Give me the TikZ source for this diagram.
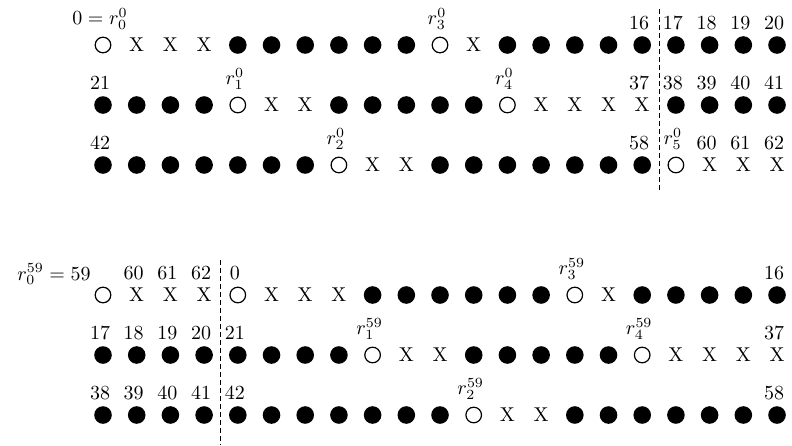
\documentclass[tikz,border=0pt]{standalone}
\begin{document}
\begin{tikzpicture}[x=0.5pt,y=-0.5pt,
  fd/.style={circle,fill=black,inner sep=0pt,minimum size=8.8pt},
  od/.style={circle,draw=black,line width=0.6pt,inner sep=0pt,minimum size=7.8pt},
  xd/.style={inner sep=0pt,execute at begin node={X}},
  lab/.style={anchor=south,inner sep=0pt},
  sepline/.style={line width=0.5pt,dash pattern=on 2.6pt off 1.4pt}]
\useasboundingbox (0,0) rectangle (792,445);
% top block
\foreach \t [count=\i from 0] in {od,xd,xd,xd,fd,fd,fd,fd,fd,fd,od,xd,fd,fd,fd,fd,fd,fd,fd,fd,fd}
  \node[\t] (a-\i) at ({103+33.7*\i},45) {};
\foreach \t [count=\i from 0] in {fd,fd,fd,fd,od,xd,xd,fd,fd,fd,fd,fd,od,xd,xd,xd,xd,fd,fd,fd,fd}
  \node[\t] (b-\i) at ({103+33.7*\i},105) {};
\foreach \t [count=\i from 0] in {fd,fd,fd,fd,fd,fd,fd,od,xd,xd,fd,fd,fd,fd,fd,fd,fd,od,xd,xd,xd}
  \node[\t] (c-\i) at ({103+33.7*\i},165) {};
% bottom block
\foreach \t [count=\i from 0] in {od,xd,xd,xd,od,xd,xd,xd,fd,fd,fd,fd,fd,fd,od,xd,fd,fd,fd,fd,fd}
  \node[\t] (d-\i) at ({103+33.7*\i},295) {};
\foreach \t [count=\i from 0] in {fd,fd,fd,fd,fd,fd,fd,fd,od,xd,xd,fd,fd,fd,fd,fd,od,xd,xd,xd,xd}
  \node[\t] (e-\i) at ({103+33.7*\i},355) {};
\foreach \t [count=\i from 0] in {fd,fd,fd,fd,fd,fd,fd,fd,fd,fd,fd,od,xd,xd,fd,fd,fd,fd,fd,fd,fd}
  \node[\t] (f-\i) at ({103+33.7*\i},415) {};
% labels
\node[anchor=south east,inner sep=0pt] (la-0) at ([shift={(12.5pt,7.5pt)}]a-0.center) {$0 = r_0^0$};
\foreach \k/\s in {10/$r_3^0$,16/16,17/17,18/18,19/19,20/20}
  \node[lab] (la-\k) at ([shift={(-1.5pt,7.5pt)}]a-\k.center) {\s};
\foreach \k/\s in {0/21,4/$r_1^0$,12/$r_4^0$,16/37,17/38,18/39,19/40,20/41}
  \node[lab] (lb-\k) at ([shift={(-1.5pt,7.5pt)}]b-\k.center) {\s};
\foreach \k/\s in {0/42,7/$r_2^0$,16/58,17/$r_5^0$,18/60,19/61,20/62}
  \node[lab] (lc-\k) at ([shift={(-1.5pt,7.5pt)}]c-\k.center) {\s};
\node[anchor=base east,inner sep=0pt] (ld-0) at ([shift={(-6pt,7.5pt)}]d-0.center) {$r_0^{59} = 59$};
\foreach \k/\s in {1/60,2/61,3/62,4/0,14/$r_3^{59}$,20/16}
  \node[lab] (ld-\k) at ([shift={(-1.5pt,7.5pt)}]d-\k.center) {\s};
\foreach \k/\s in {0/17,1/18,2/19,3/20,4/21,8/$r_1^{59}$,16/$r_4^{59}$,20/37}
  \node[lab] (le-\k) at ([shift={(-1.5pt,7.5pt)}]e-\k.center) {\s};
\foreach \k/\s in {0/38,1/39,2/40,3/41,4/42,11/$r_2^{59}$,20/58}
  \node[lab] (lf-\k) at ([shift={(-1.5pt,7.5pt)}]f-\k.center) {\s};
% dashed separators
\coordinate (s1a) at (659,9);
\coordinate (s1b) at (659,192);
\coordinate (s2a) at (220,260);
\coordinate (s2b) at (220,445);
\draw[sepline] (s1a) -- (s1b);
\draw[sepline] (s2a) -- (s2b);
\end{tikzpicture}
\end{document}
